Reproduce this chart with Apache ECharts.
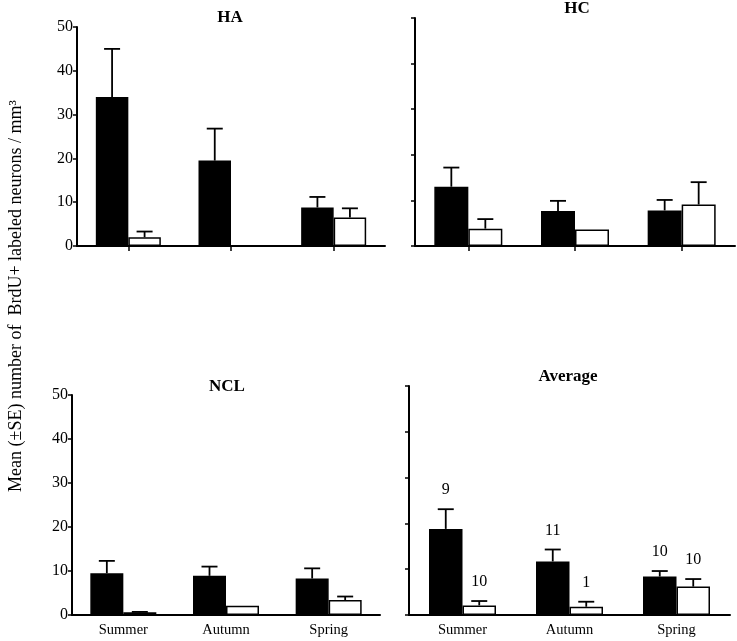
<!DOCTYPE html>
<html>
<head>
<meta charset="utf-8">
<script src="https://cdn.jsdelivr.net/npm/echarts@6/dist/echarts.min.js"></script>
<style>html,body{margin:0;padding:0;background:#fff}#c{width:737px;height:641px}</style>
</head>
<body>
<div id="c"></div>
<script>
const categories = ['Summer', 'Autumn', 'Spring'];
const yTicks = [0, 10, 20, 30, 40, 50];

const haBlack = [34, 19.5, 8.8];
const haBlackSE = [11, 7.3, 2.4];
const haWhite = [2, 0, 6.5];
const haWhiteSE = [1.3, 0, 2.1];

const hcBlack = [13, 7.7, 7.8];
const hcBlackSE = [4.2, 2.2, 2.3];
const hcWhite = [3.8, 3.6, 9.1];
const hcWhiteSE = [2.1, 0, 4.9];

const nclBlack = [9.5, 8.9, 8.3];
const nclBlackSE = [2.8, 2.1, 2.3];
const nclWhite = [0.6, 2.1, 3.4];
const nclWhiteSE = [0.1, 0, 0.8];

const avgBlack = [18.8, 11.7, 8.4];
const avgBlackSE = [4.3, 2.6, 1.2];
const avgWhite = [2.1, 1.8, 6.2];
const avgWhiteSE = [0.95, 1.1, 1.65];
const avgBlackN = [9, 11, 10];
const avgWhiteN = [10, 1, 10];

const yTitle = 'Mean (\u00b1SE) number of  BrdU+ labeled neurons / mm\u00b3';

const FONT = '"Liberation Serif", "Times New Roman", serif';

const panels = [
  { title: 'HA', black: haBlack, blackSE: haBlackSE, white: haWhite, whiteSE: haWhiteSE,
    grid: { left: 77, top: 27, width: 308, height: 219 }, bw: 32.5, showY: true, bottom: false, tx: 230, ty: 18 },
  { title: 'HC', black: hcBlack, blackSE: hcBlackSE, white: hcWhite, whiteSE: hcWhiteSE,
    grid: { left: 415, top: 18, width: 320, height: 228 }, bw: 34, showY: false, bottom: false, tx: 577, ty: 9 },
  { title: 'NCL', black: nclBlack, blackSE: nclBlackSE, white: nclWhite, whiteSE: nclWhiteSE,
    grid: { left: 72, top: 395, width: 308, height: 220 }, bw: 33, showY: true, bottom: true, tx: 227, ty: 387 },
  { title: 'Average', black: avgBlack, blackSE: avgBlackSE, white: avgWhite, whiteSE: avgWhiteSE,
    grid: { left: 409, top: 386, width: 321, height: 229 }, bw: 33.5, showY: false, bottom: true, tx: 568, ty: 377,
    blackN: avgBlackN, whiteN: avgWhiteN }
];

function errRender(sign, bw, labels) {
  return function (params, api) {
    const i = api.value(0), m = api.value(1), se = api.value(2);
    const base = api.coord([i, m]);
    const top = api.coord([i, m + se]);
    const x = base[0] + sign * bw / 2;
    const children = [];
    const st = { stroke: '#000', lineWidth: 1.8 };
    if (se > 0) {
      children.push({ type: 'line', shape: { x1: x, y1: base[1], x2: x, y2: top[1] }, style: st });
      children.push({ type: 'line', shape: { x1: x - 8, y1: top[1], x2: x + 8, y2: top[1] }, style: st });
    }
    if (labels) {
      children.push({ type: 'text', x: x, y: top[1] - 19,
        style: { text: String(labels[i]), textAlign: 'center', textVerticalAlign: 'middle',
                 align: 'center', verticalAlign: 'middle', font: '16px ' + FONT, fill: '#000' } });
    }
    return { type: 'group', children: children };
  };
}

const grids = [], xAxes = [], yAxes = [], series = [], titles = [];
panels.forEach((p, k) => {
  grids.push(Object.assign({ containLabel: false }, p.grid));
  xAxes.push({
    type: 'category', gridIndex: k, data: categories,
    axisLine: { lineStyle: { color: '#000', width: 2 } },
    axisTick: { show: !p.bottom, alignWithLabel: true, length: 5, lineStyle: { color: '#000', width: 1.5 } },
    axisLabel: { show: p.bottom, color: '#000', fontFamily: FONT, fontSize: 14.5, margin: 8 },
    splitLine: { show: false }
  });
  yAxes.push({
    type: 'value', gridIndex: k, min: 0, max: 50, interval: 10,
    axisLine: { show: true, lineStyle: { color: '#000', width: 2 } },
    axisTick: { show: true, length: 4, lineStyle: { color: '#000', width: 1.5 } },
    axisLabel: { show: p.showY, color: '#000', fontFamily: FONT, fontSize: 16, margin: 4 },
    splitLine: { show: false }
  });
  series.push({
    type: 'bar', xAxisIndex: k, yAxisIndex: k, data: p.black, barWidth: p.bw, barGap: '0%',
    itemStyle: { color: '#000', borderColor: '#000', borderWidth: 1.5 }, silent: true
  });
  series.push({
    type: 'bar', xAxisIndex: k, yAxisIndex: k, data: p.white, barWidth: p.bw, barGap: '0%',
    itemStyle: { color: '#fff', borderColor: '#000', borderWidth: 1.5 }, silent: true
  });
  series.push({
    type: 'custom', xAxisIndex: k, yAxisIndex: k, z: 5, silent: true,
    data: categories.map((c, i) => [i, p.black[i], p.blackSE[i]]),
    encode: { x: 0, y: 1 },
    renderItem: errRender(-1, p.bw, p.blackN)
  });
  series.push({
    type: 'custom', xAxisIndex: k, yAxisIndex: k, z: 5, silent: true,
    data: categories.map((c, i) => [i, p.white[i], p.whiteSE[i]]),
    encode: { x: 0, y: 1 },
    renderItem: errRender(1, p.bw, p.whiteN)
  });
  titles.push({
    text: p.title, left: p.tx, top: p.ty, padding: 0, textAlign: 'center', textVerticalAlign: 'middle',
    textStyle: { fontFamily: FONT, fontWeight: 'bold', fontSize: 17, color: '#000' }
  });
});

const chart = echarts.init(document.getElementById('c'), null, { renderer: 'canvas' });
chart.setOption({
  animation: false,
  backgroundColor: '#fff',
  title: titles,
  grid: grids,
  xAxis: xAxes,
  yAxis: yAxes,
  series: series,
  graphic: [{
    type: 'text', x: 16, y: 296, rotation: Math.PI / 2,
    style: { text: yTitle, textAlign: 'center', textVerticalAlign: 'middle', align: 'center', verticalAlign: 'middle',
             font: '18px ' + FONT, fill: '#000' }
  }]
});
</script>
</body>
</html>
